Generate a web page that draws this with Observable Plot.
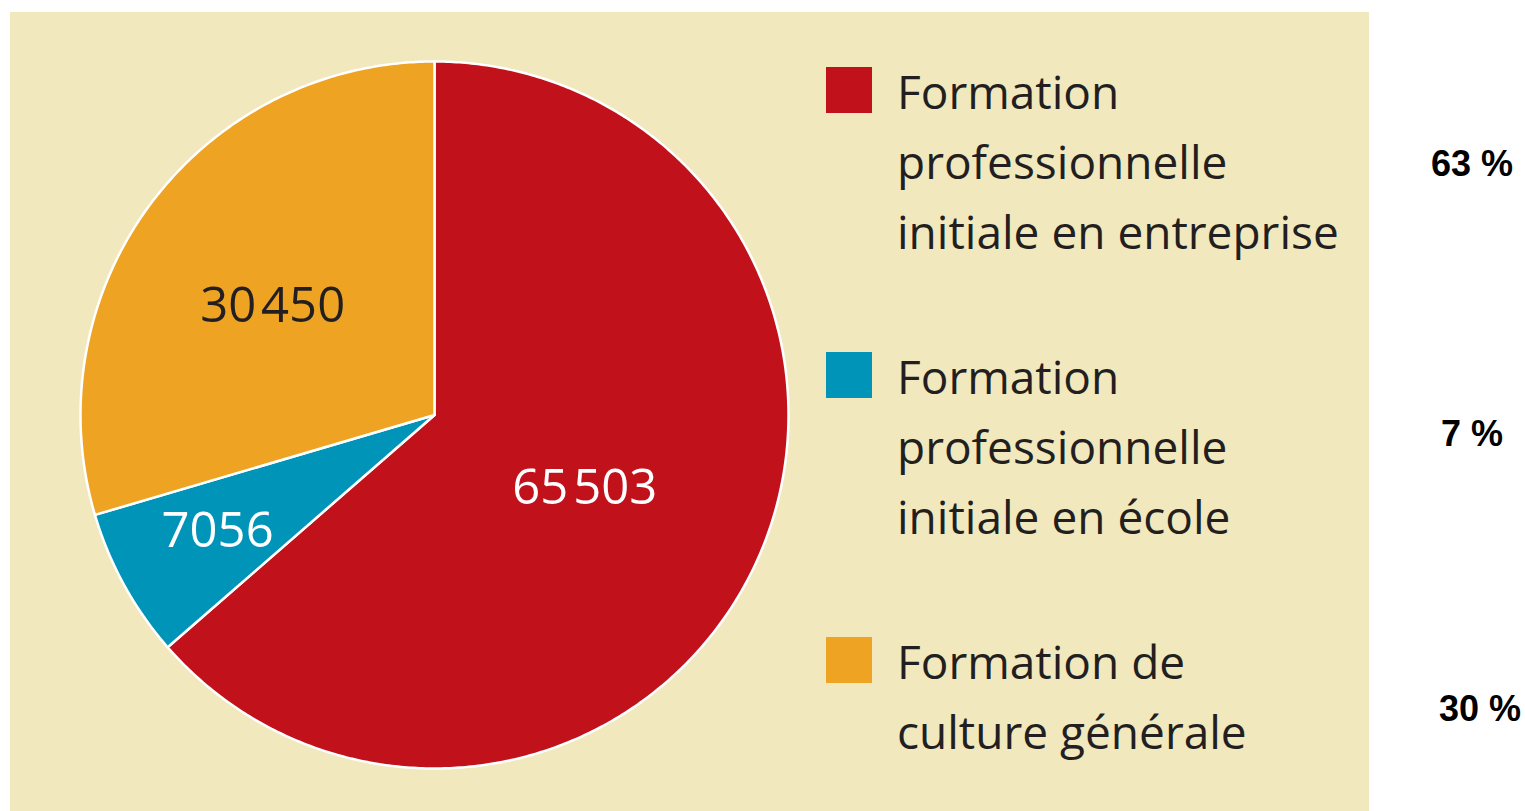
<!DOCTYPE html>
<html>
<head>
<meta charset="utf-8">
<script src="https://cdn.jsdelivr.net/npm/d3@7"></script>
<script src="https://cdn.jsdelivr.net/npm/@observablehq/plot@0.6"></script>
<style>
  html, body { margin: 0; padding: 0; background: #ffffff; }
  #root { position: relative; width: 1525px; height: 811px; overflow: hidden; }
  #panel { position: absolute; left: 10px; top: 12px; width: 1359px; height: 799px; background: #F1E8BD; }
  #chart { position: absolute; left: 0; top: 0; }
  .sw { position: absolute; width: 46px; height: 46px; }
  .lg { position: absolute; font-family: "Open Sans", sans-serif; font-size: 46px; line-height: 70px; color: #231f20; white-space: nowrap; }
  .pct { position: absolute; width: 120px; text-align: center; font-family: "Liberation Sans", Arial, sans-serif; font-weight: bold; font-size: 36px; line-height: 36px; color: #000; white-space: nowrap; }
</style>
</head>
<body>
<div id="root">
  <div id="panel"></div>
  <div id="chart"></div>
</div>
<script>
// ---- data ----
const categories = [
  "Formation professionnelle initiale en entreprise",
  "Formation professionnelle initiale en école",
  "Formation de culture générale"
];
const legendLines = [
  ["Formation", "professionnelle", "initiale en entreprise"],
  ["Formation", "professionnelle", "initiale en école"],
  ["Formation de", "culture générale"]
];
const values = [65503, 7056, 30450];
const percentLabels = ["63 %", "7 %", "30 %"];
const colors = ["#C1121C", "#0094B9", "#EEA322"];
const labelColors = ["#ffffff", "#ffffff", "#231f20"];

// ---- layout (not data) ----
const labelRadius = [0.468, 0.691, 0.556];
const labelAngleShift = [0.5, 1.2, -2.1]; // degrees
const legendTop0 = 67, legendStep = 285;
const pctBaselines = [177, 447, 722];
const pctCenters = [1472, 1472, 1480];

const rows = categories.map((c, i) => ({cat: c, value: values[i], i}));
const arcs = d3.pie().sort(null).value(d => d.value)(rows);

// slice outlines (center + arc points), in unit-circle coordinates
const pts = [];
for (const a of arcs) {
  pts.push({cat: a.data.cat, x: 0, y: 0});
  const n = Math.max(2, Math.ceil((a.endAngle - a.startAngle) / (Math.PI / 360)));
  for (let k = 0; k <= n; k++) {
    const t = a.startAngle + (a.endAngle - a.startAngle) * k / n;
    pts.push({cat: a.data.cat, x: Math.sin(t), y: Math.cos(t)});
  }
}

const fmt = v => {
  const s = String(v);
  return v >= 10000 ? s.slice(0, s.length - 3) + "\u200A" + s.slice(-3) : s;
};
const labels = arcs.map(a => {
  const m = (a.startAngle + a.endAngle) / 2 + labelAngleShift[a.data.i] * Math.PI / 180;
  const r = labelRadius[a.data.i];
  return {x: r * Math.sin(m), y: r * Math.cos(m), text: fmt(a.data.value), tc: labelColors[a.data.i]};
});

const chart = Plot.plot({
  width: 868,
  height: 811,
  marginLeft: 80,
  marginRight: 80,
  marginTop: 61,
  marginBottom: 43,
  x: {domain: [-1, 1], axis: null},
  y: {domain: [-1, 1], axis: null},
  color: {domain: categories, range: colors},
  style: {background: "transparent", overflow: "visible"},
  marks: [
    Plot.line(pts, {x: "x", y: "y", z: "cat", fill: "cat", stroke: "white", strokeWidth: 2.5, strokeLinejoin: "round", curve: "linear-closed"}),
    Plot.text(labels, {x: "x", y: "y", text: "text", fill: d => d.tc, fontSize: 49, fontFamily: "Open Sans, sans-serif", textAnchor: "middle", lineAnchor: "middle", dy: 3})
  ]
});
document.getElementById("chart").appendChild(chart);

// legend
const root = document.getElementById("root");
categories.forEach((c, i) => {
  const top = legendTop0 + i * legendStep;
  const sw = document.createElement("div");
  sw.className = "sw";
  sw.style.left = "826px";
  sw.style.top = top + "px";
  sw.style.background = colors[i];
  root.appendChild(sw);
  const lg = document.createElement("div");
  lg.className = "lg";
  lg.style.left = "897px";
  lg.style.top = (top - 11) + "px";
  lg.innerHTML = legendLines[i].join("<br>");
  root.appendChild(lg);
  const p = document.createElement("div");
  p.className = "pct";
  p.style.left = (pctCenters[i] - 60) + "px";
  p.style.top = (pctBaselines[i] - 31) + "px";
  p.textContent = percentLabels[i];
  root.appendChild(p);
});
</script>
</body>
</html>
